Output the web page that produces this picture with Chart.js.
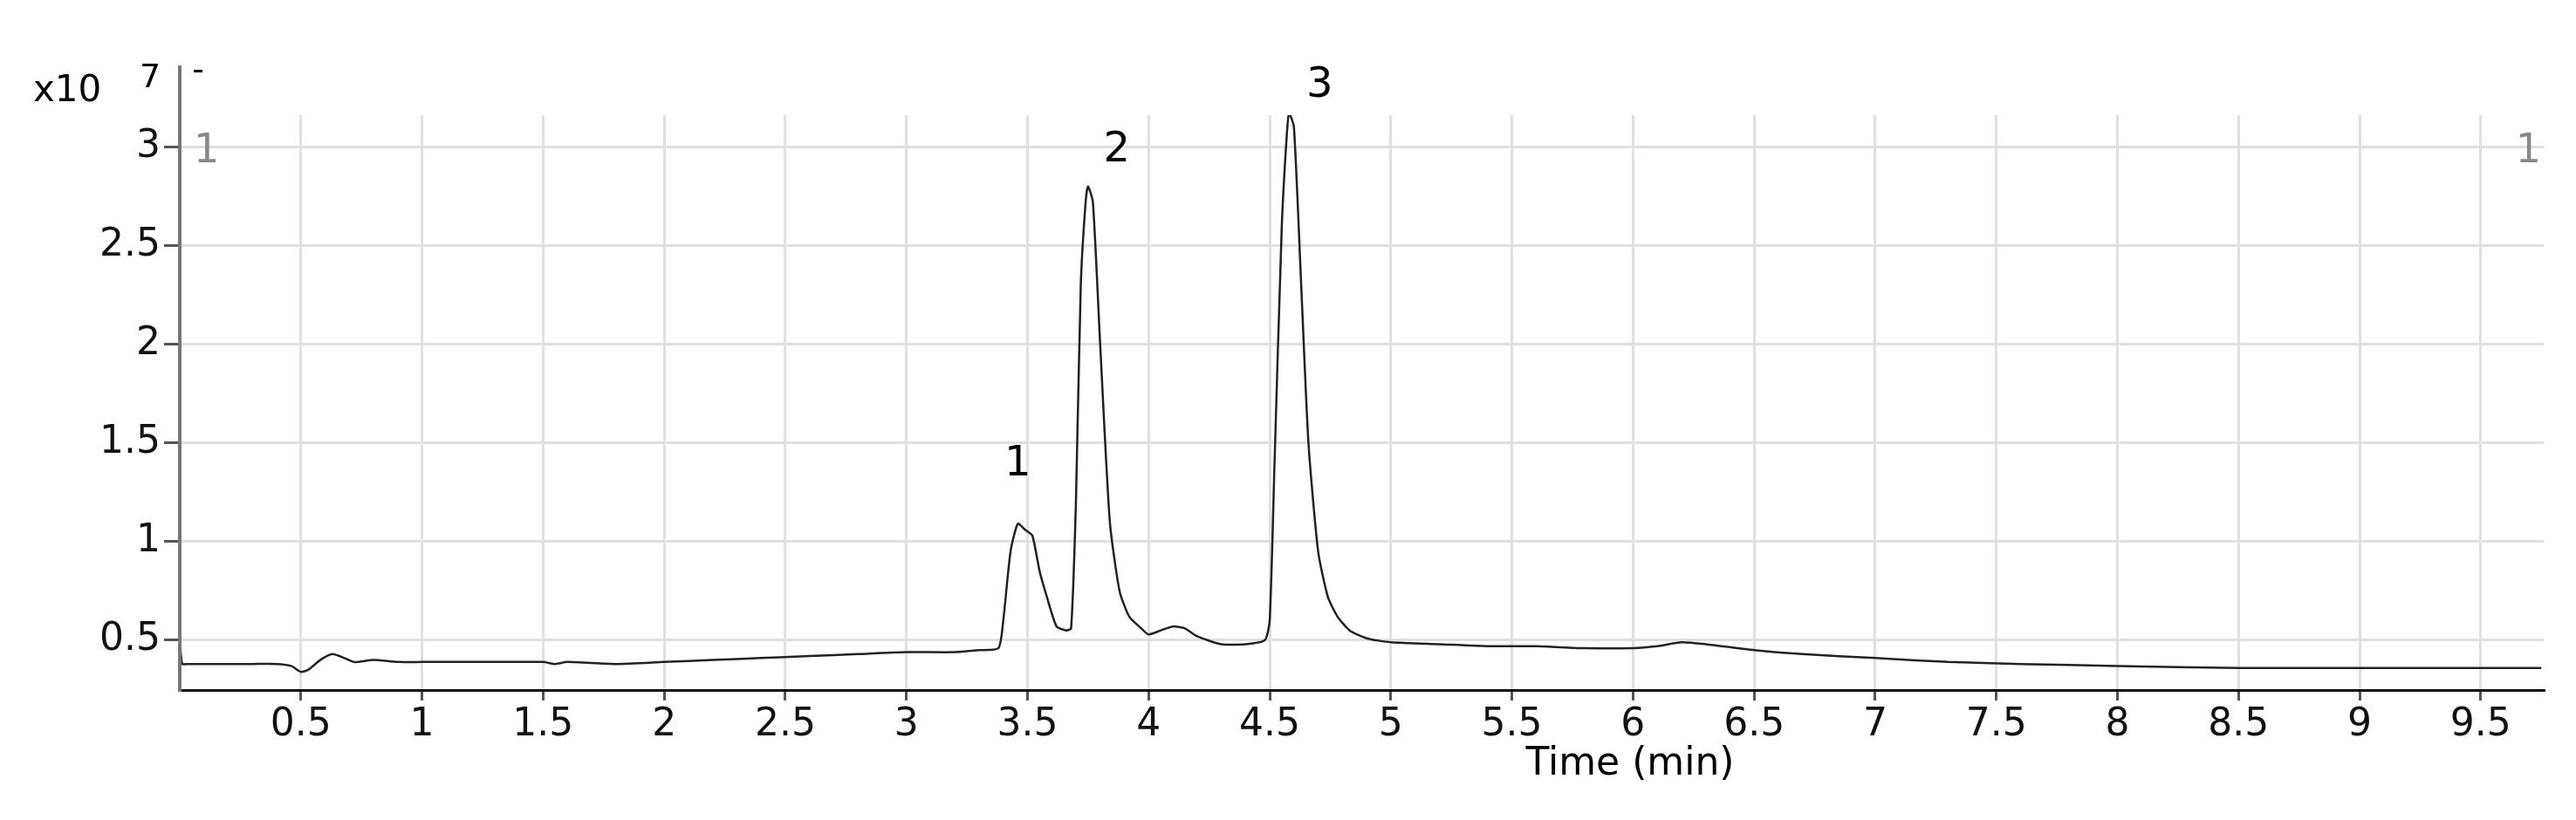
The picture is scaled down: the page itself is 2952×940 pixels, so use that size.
<!DOCTYPE html>
<html><head><meta charset="utf-8">
<script src="https://cdn.jsdelivr.net/npm/chart.js@4/dist/chart.umd.min.js"></script>
<style>html,body{margin:0;background:#fff}#w{width:2952px;height:940px}</style>
</head><body><div id="w"><canvas id="c"></canvas></div>
<script>
const timeMin = [0.0,0.01,0.03,0.1,0.2,0.3,0.4,0.46,0.5,0.53,0.58,0.63,0.68,0.72,0.8,0.9,1.0,1.2,1.4,1.5,1.55,1.6,1.8,2.0,2.2,2.4,2.6,2.8,3.0,3.2,3.3,3.38,3.40,3.43,3.46,3.49,3.52,3.55,3.58,3.62,3.66,3.68,3.70,3.72,3.74,3.75,3.77,3.80,3.84,3.88,3.92,3.97,4.0,4.05,4.1,4.15,4.2,4.3,4.4,4.48,4.5,4.52,4.55,4.57,4.58,4.6,4.63,4.66,4.7,4.74,4.78,4.83,4.9,5.0,5.2,5.4,5.6,5.8,6.0,6.1,6.2,6.3,6.5,6.7,7.0,7.3,7.6,8.0,8.5,9.0,9.5,9.75];
const intensity = [0.50,0.38,0.38,0.38,0.38,0.38,0.38,0.37,0.34,0.35,0.40,0.43,0.41,0.39,0.40,0.39,0.39,0.39,0.39,0.39,0.38,0.39,0.38,0.39,0.40,0.41,0.42,0.43,0.44,0.44,0.45,0.46,0.60,0.95,1.09,1.06,1.03,0.85,0.72,0.57,0.55,0.56,1.20,2.30,2.72,2.80,2.72,2.00,1.10,0.75,0.62,0.56,0.53,0.55,0.57,0.56,0.52,0.48,0.48,0.50,0.60,1.40,2.60,3.05,3.17,3.10,2.30,1.50,0.95,0.72,0.62,0.55,0.51,0.49,0.48,0.47,0.47,0.46,0.46,0.47,0.49,0.48,0.45,0.43,0.41,0.39,0.38,0.37,0.36,0.36,0.36,0.36];
const xTicks = [0.5,1,1.5,2,2.5,3,3.5,4,4.5,5,5.5,6,6.5,7,7.5,8,8.5,9,9.5];
const yTicks = [0.5,1,1.5,2,2.5,3];
const peakLabels = ['1','2','3'];
const peakTimes = [3.46,3.75,4.58];
const peakHeights = [1.09,2.80,3.17];

const FONT = 'DejaVu Sans';
const extras = {
  id:'extras',
  afterDraw(ch){
    const {ctx,chartArea:a,scales:{x,y}} = ch;
    ctx.save();
    ctx.strokeStyle='#777';ctx.lineWidth=4;
    ctx.beginPath();ctx.moveTo(a.left,75);ctx.lineTo(a.left,a.bottom);ctx.stroke();
    ctx.fillStyle='#000';ctx.font='42px '+FONT;ctx.textBaseline='alphabetic';ctx.textAlign='left';
    ctx.fillText('x10',38,116);
    ctx.font='38px '+FONT;ctx.fillText('7',160,100);
    ctx.fillRect(222,80,10,3);
    ctx.fillStyle='#888';ctx.font='46px '+FONT;
    ctx.fillText('1',222,186);
    ctx.textAlign='right';ctx.fillText('1',2912,186);
    ctx.fillStyle='#000';ctx.textAlign='center';ctx.textBaseline='middle';ctx.font='48px '+FONT;
    const dx=[0,33,35], dy=[-68,-41,-31];
    peakLabels.forEach((t,i)=>{
      const px=x.getPixelForValue(peakTimes[i]), py=y.getPixelForValue(peakHeights[i]);
      ctx.fillText(t,px+dx[i],py+dy[i]);
    });
    ctx.font='44px '+FONT;ctx.fillText('Time (min)',1868,877);
    ctx.restore();
  }
};
new Chart(document.getElementById('c'),{
  type:'line',
  data:{datasets:[{data:timeMin.map((t,i)=>({x:t,y:intensity[i]})),borderColor:'#222',borderWidth:2.5,pointRadius:0,tension:0.2}]},
  options:{
    responsive:true,maintainAspectRatio:false,animation:false,
    layout:{padding:{left:0,right:37,top:132,bottom:0}},
    plugins:{legend:{display:false},tooltip:{enabled:false}},
    scales:{
      x:{type:'linear',min:0,max:9.76,
        afterBuildTicks:s=>{s.ticks=xTicks.map(v=>({value:v}));},
        afterFit:s=>{s.height=149;},
        grid:{color:'#e0e0e0',lineWidth:3,drawTicks:true,tickLength:12,tickColor:'#555'},
        border:{color:'#111',width:3},
        ticks:{color:'#111',font:{family:FONT,size:44},padding:2,maxRotation:0,autoSkip:false,callback:v=>String(v)}},
      y:{min:0.248,max:3.16,
        afterBuildTicks:s=>{s.ticks=yTicks.map(v=>({value:v}));},
        afterFit:s=>{s.width=206;},
        grid:{color:'#e0e0e0',lineWidth:3,tickLength:18,tickColor:'#555'},
        border:{color:'#777',width:4},
        ticks:{color:'#111',font:{family:FONT,size:44},padding:4,callback:v=>String(v)}}
    }
  },
  plugins:[extras]
});
</script></body></html>
